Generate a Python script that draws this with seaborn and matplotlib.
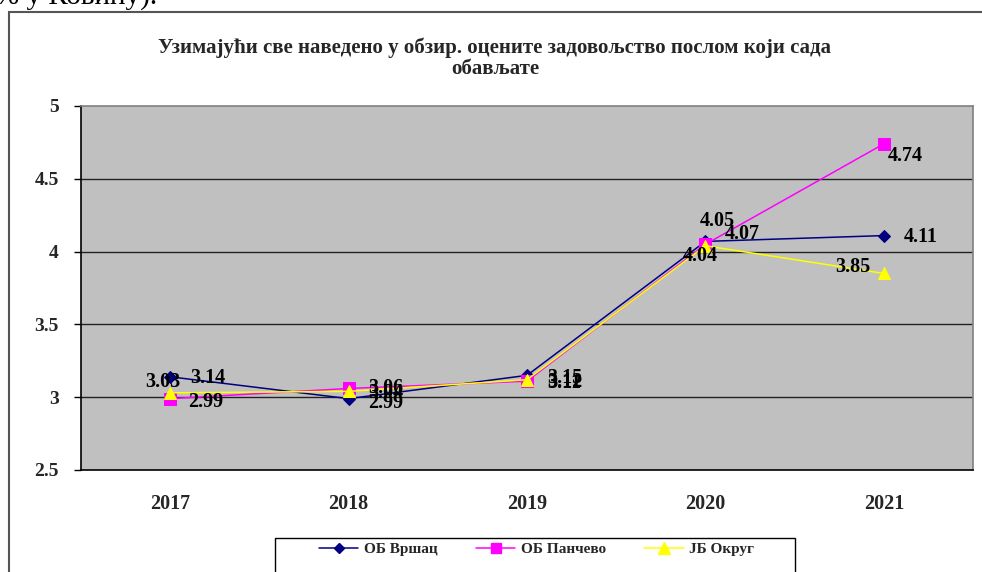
import matplotlib
matplotlib.use("Agg")
import matplotlib.pyplot as plt
import seaborn as sns
import pandas as pd
from matplotlib.patches import Rectangle
from matplotlib.lines import Line2D

years = ["2017", "2018", "2019", "2020", "2021"]
vrsac = [3.14, 2.99, 3.15, 4.07, 4.11]
pancevo = [2.99, 3.06, 3.11, 4.05, 4.74]
okrug = [3.03, 3.04, 3.12, 4.04, 3.85]
series_names = ["ОБ Вршац", "ОБ Панчево", "ЈБ Округ"]
title = "Узимајући све наведено у обзир. оцените задовољство послом који сада\nобављате"

sns.set_theme(style="white")
plt.rcParams['font.family'] = ['Liberation Serif', 'DejaVu Serif']

W, H = 982, 572
fig = plt.figure(figsize=(W / 100, H / 100), dpi=100)
ax = fig.add_axes([81 / W, 1 - 470 / H, (973 - 81) / W, (470 - 106) / H])

rows = []
for name, vals in zip(series_names, [vrsac, pancevo, okrug]):
    for i, v in enumerate(vals):
        rows.append({"pos": i, "year": years[i], "value": v, "series": name})
df = pd.DataFrame(rows)

colors = {"ОБ Вршац": "#000080", "ОБ Панчево": "#FF00FF", "ЈБ Округ": "#FFFF00"}
markers = {"ОБ Вршац": "D", "ОБ Панчево": "s", "ЈБ Округ": "^"}
msizes = {"ОБ Вршац": 6, "ОБ Панчево": 8, "ЈБ Округ": 9}

for name in series_names:
    sub = df[df.series == name]
    sns.lineplot(data=sub, x="pos", y="value", ax=ax, color=colors[name],
                 marker=markers[name], markersize=msizes[name],
                 markeredgecolor=colors[name], linewidth=1.1, legend=False,
                 zorder=3)

ax.set_facecolor("#C0C0C0")
ax.set_xlim(-0.5, 4.5)
ax.set_ylim(2.5, 5)
ax.set_yticks([2.5, 3, 3.5, 4, 4.5, 5])
ax.set_yticklabels(["2.5", "3", "3.5", "4", "4.5", "5"], fontsize=14, fontweight="bold")
ax.set_xticks(range(5))
ax.set_xticklabels(years, fontsize=14.5, fontweight="bold")
ax.set_xticks([-0.5, 0.5, 1.5, 2.5, 3.5, 4.5], minor=True)
ax.tick_params(axis="x", which="major", length=0, pad=17)
ax.tick_params(axis="x", which="minor", length=5, width=1, color="black", direction="out")
ax.tick_params(axis="y", length=5, width=1, color="black", direction="out", pad=11, left=True)
for y in [3, 3.5, 4, 4.5]:
    ax.axhline(y, color="#222222", lw=1.0, zorder=1)
ax.set_xlabel("")
ax.set_ylabel("")
for s in ["left", "bottom"]:
    ax.spines[s].set_color("black")
    ax.spines[s].set_linewidth(1.2)
for s in ["top", "right"]:
    ax.spines[s].set_color("#808080")
    ax.spines[s].set_linewidth(1.2)

# data labels (offsets in pixels)
offsets = {
    "ОБ Вршац": [(20, -1), (20, -4), (20, -3), (19, 7), (20, -1)],
    "ОБ Панчево": [(18, -3), (20, 0), (20, -2), (-6, 23), (4, -12)],
    "ЈБ Округ": [(-25, 11), (20, -2), (20, -2), (-23, -10), (-49, 6)],
}
for name, vals in zip(series_names, [vrsac, pancevo, okrug]):
    for i, v in enumerate(vals):
        ax.annotate(f"{v:.2f}", (i, v), xytext=offsets[name][i],
                    textcoords="offset pixels", ha="left", va="center",
                    fontsize=14.5, fontweight="bold", color="black", zorder=5)

fig.text(495 / W, 1 - 58 / H, title, ha="center", va="center",
         fontsize=15, fontweight="bold", linespacing=1.08)

# outer chart frame
fig.patches.append(Rectangle((9 / W, -0.1), 1.2, 1.1 - 12 / H,
                             transform=fig.transFigure, fill=False,
                             edgecolor="#555555", lw=1.5))
# top cut-off text
fig.text(-0.005, 1 - 4 / H, "% у Ковину).", ha="left", va="baseline",
         fontsize=21, color="black")

# legend box
fig.patches.append(Rectangle((275 / W, -0.1), (795 - 275) / W, 0.1 + (572 - 538) / H,
                             transform=fig.transFigure, fill=True, facecolor="white",
                             edgecolor="black", lw=1.0))
handles = [Line2D([0], [0], color=colors[n], marker=markers[n], markersize=msizes[n] - 1,
                  markeredgecolor=colors[n], lw=1.1) for n in series_names]
leg = fig.legend(handles, series_names, loc="center left",
                 bbox_to_anchor=(305 / W, 1 - 549 / H), ncol=3, frameon=False,
                 prop={"family": "Liberation Serif", "weight": "bold", "size": 11},
                 handlelength=2.6, columnspacing=2.5, handletextpad=0.35)

fig.savefig("out.png", dpi=100)
